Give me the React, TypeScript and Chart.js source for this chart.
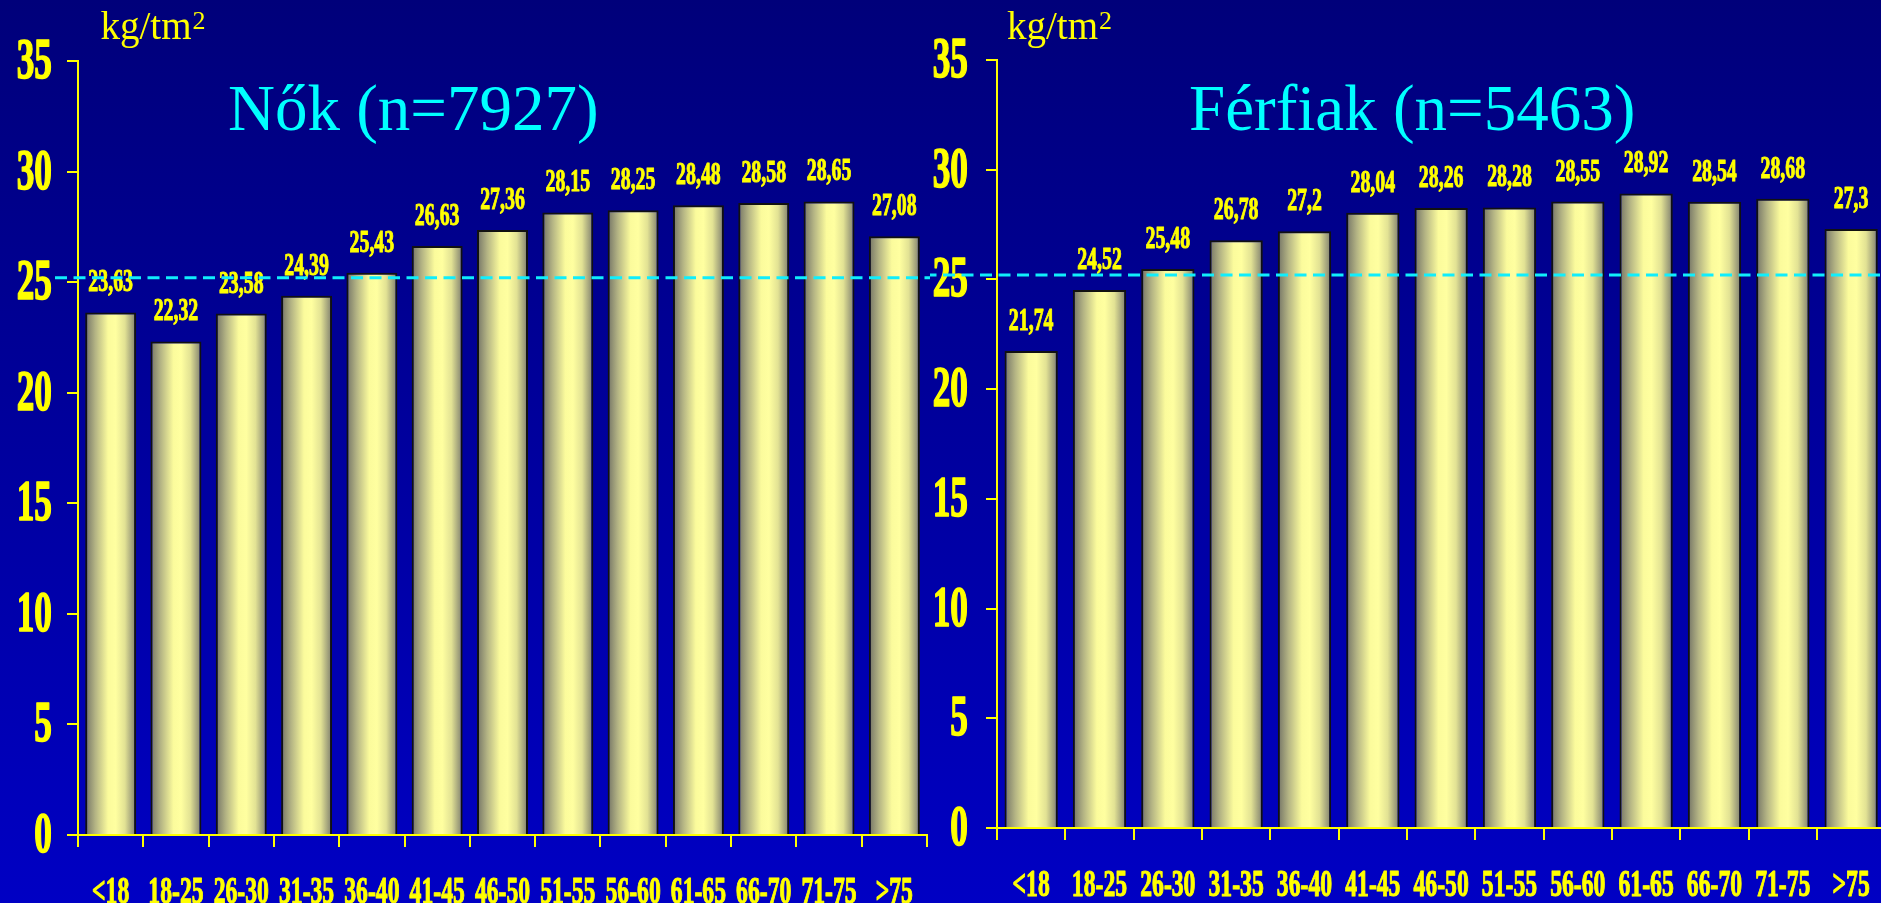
import React, { useEffect, useRef } from 'react';
import { Chart, registerables } from 'chart.js';

Chart.register(...registerables);

const categories = ['<18', '18-25', '26-30', '31-35', '36-40', '41-45', '46-50', '51-55', '56-60', '61-65', '66-70', '71-75', '>75'];
const womenValues = [23.63, 22.32, 23.58, 24.39, 25.43, 26.63, 27.36, 28.15, 28.25, 28.48, 28.58, 28.65, 27.08];
const menValues = [21.74, 24.52, 25.48, 26.78, 27.2, 28.04, 28.26, 28.28, 28.55, 28.92, 28.54, 28.68, 27.3];
const yMin = 0;
const yMax = 35;
const yStep = 5;
const referenceValue = 25.2;
const womenTitle = 'Nők (n=7927)';
const menTitle = 'Férfiak (n=5463)';
const unitText = 'kg/tm';
const unitSup = '2';

const SERIF = '"Liberation Serif", "Times New Roman", serif';
const YELLOW = '#ffff00';
const CYAN = '#00ffff';

type Layout = {
  pageX: number;
  width: number;
  height: number;
  axisLeft: number;
  padRight: number;
  padTop: number;
  xAxisHeight: number;
  title: string;
  titleX: number;
  unitX: number;
  yLabelRight: number;
  dashFrom: number;
  dashTo: number;
};

function fmt(v: number): string {
  return String(v).replace('.', ',');
}

function drawCondensed(
  ctx: CanvasRenderingContext2D,
  text: string,
  x: number,
  y: number,
  align: CanvasTextAlign,
  sx: number,
  thick: number
) {
  ctx.save();
  ctx.translate(x, y);
  ctx.scale(sx, 1);
  ctx.textAlign = align;
  ctx.textBaseline = 'alphabetic';
  ctx.fillText(text, 0, 0);
  if (thick > 0) {
    ctx.strokeStyle = ctx.fillStyle as string;
    ctx.lineWidth = thick;
    ctx.lineJoin = 'round';
    ctx.strokeText(text, 0, 0);
  }
  ctx.restore();
}

function makePlugin(L: Layout) {
  return {
    id: 'custom-text',
    afterDatasetsDraw(chart: any) {
      const ctx: CanvasRenderingContext2D = chart.ctx;
      const meta = chart.getDatasetMeta(0);
      const data = chart.data.datasets[0].data as number[];
      ctx.save();
      ctx.fillStyle = YELLOW;
      ctx.font = `bold 31px ${SERIF}`;
      meta.data.forEach((el: any, i: number) => {
        drawCondensed(ctx, fmt(data[i]), el.x, el.y - 21, 'center', 0.64, 1);
      });
      ctx.restore();
    },
    afterDraw(chart: any) {
      const ctx: CanvasRenderingContext2D = chart.ctx;
      const ys = chart.scales.y;
      const xs = chart.scales.x;
      ctx.save();
      ctx.fillStyle = YELLOW;
      ctx.font = `bold 56px ${SERIF}`;
      ys.ticks.forEach((t: any) => {
        const py = ys.getPixelForValue(t.value);
        drawCondensed(ctx, String(t.value), L.yLabelRight, py + 17, 'right', 0.63, 1.6);
      });
      ctx.font = `bold 37px ${SERIF}`;
      const labels = chart.data.labels as string[];
      labels.forEach((lab, i) => {
        const px = xs.getPixelForValue(i);
        drawCondensed(ctx, lab, px, chart.chartArea.bottom + 68, 'center', 0.64, 1.1);
      });
      ctx.textAlign = 'left';
      ctx.textBaseline = 'alphabetic';
      ctx.font = `39px ${SERIF}`;
      ctx.fillText(unitText, L.unitX, 39);
      const w = ctx.measureText(unitText).width;
      ctx.font = `26px ${SERIF}`;
      ctx.fillText(unitSup, L.unitX + w + 1, 29);
      ctx.fillStyle = CYAN;
      ctx.font = `65px ${SERIF}`;
      ctx.fillText(L.title, L.titleX, 130);
      const ry = ys.getPixelForValue(referenceValue);
      ctx.strokeStyle = '#10eefc';
      ctx.lineWidth = 3;
      ctx.setLineDash([12, 6.5]);
      ctx.lineDashOffset = L.pageX + L.dashFrom - 55;
      ctx.beginPath();
      ctx.moveTo(L.dashFrom, ry);
      ctx.lineTo(L.dashTo, ry);
      ctx.stroke();
      ctx.restore();
    },
  };
}

function barGradient(c: any) {
  const chart = c.chart;
  const xs = chart.scales && chart.scales.x;
  const fallback = '#f4f49a';
  if (!xs || c.dataIndex === undefined || !chart.chartArea) return fallback;
  const cx = xs.getPixelForValue(c.dataIndex);
  const w = (xs.width / categories.length) * 0.78;
  if (!isFinite(cx) || !isFinite(w) || w <= 0) return fallback;
  const g = chart.ctx.createLinearGradient(cx - w / 2, 0, cx + w / 2, 0);
  g.addColorStop(0, '#737366');
  g.addColorStop(0.2, '#b4b484');
  g.addColorStop(0.45, '#fbfb9c');
  g.addColorStop(0.6, '#ffffa0');
  g.addColorStop(0.78, '#e2e294');
  g.addColorStop(1, '#7c7c6e');
  return g;
}

function makeChart(canvas: HTMLCanvasElement, values: number[], L: Layout) {
  const axisCommon = {
    border: { display: true, color: YELLOW, width: 2 },
  };
  return new Chart(canvas, {
    type: 'bar',
    data: {
      labels: categories,
      datasets: [
        {
          data: values,
          backgroundColor: barGradient as any,
          borderColor: '#111111',
          borderWidth: 2,
          barPercentage: 0.78,
          categoryPercentage: 1,
        },
      ],
    },
    options: {
      animation: false,
      responsive: false,
      maintainAspectRatio: false,
      devicePixelRatio: 1,
      layout: { padding: { left: 0, top: L.padTop, right: L.padRight, bottom: 0 } },
      plugins: {
        legend: { display: false },
        tooltip: { enabled: false },
        title: { display: false },
      },
      scales: {
        x: {
          type: 'category',
          offset: true,
          ...axisCommon,
          grid: { offset: true, drawOnChartArea: false, drawTicks: true, tickLength: 12, color: YELLOW, lineWidth: 2 },
          ticks: { display: false },
          afterFit: (s: any) => {
            s.height = L.xAxisHeight;
          },
        },
        y: {
          min: yMin,
          max: yMax,
          ...axisCommon,
          grid: { drawOnChartArea: false, drawTicks: true, tickLength: 11, color: YELLOW, lineWidth: 2 },
          ticks: { display: false, stepSize: yStep },
          afterFit: (s: any) => {
            s.width = L.axisLeft;
          },
        },
      },
    } as any,
    plugins: [makePlugin(L) as any],
  });
}

const leftLayout: Layout = {
  pageX: 0,
  width: 940,
  height: 903,
  axisLeft: 78,
  padRight: 13,
  padTop: 61,
  xAxisHeight: 68,
  title: womenTitle,
  titleX: 228,
  unitX: 100.5,
  yLabelRight: 52,
  dashFrom: 55,
  dashTo: 930,
};

const rightLayout: Layout = {
  pageX: 920,
  width: 1040,
  height: 903,
  axisLeft: 77,
  padRight: 74.7,
  padTop: 60,
  xAxisHeight: 75,
  title: menTitle,
  titleX: 1189 - 920,
  unitX: 1007 - 920,
  yLabelRight: 968 - 920,
  dashFrom: 930 - 920,
  dashTo: 1040,
};

export default function App() {
  const leftRef = useRef<HTMLCanvasElement | null>(null);
  const rightRef = useRef<HTMLCanvasElement | null>(null);

  useEffect(() => {
    const a = makeChart(leftRef.current!, womenValues, leftLayout);
    const b = makeChart(rightRef.current!, menValues, rightLayout);
    return () => {
      a.destroy();
      b.destroy();
    };
  }, []);

  return (
    <div
      style={{
        position: 'fixed',
        left: 0,
        top: 0,
        width: 1881,
        height: 903,
        overflow: 'hidden',
        background: 'linear-gradient(to bottom, #00007a 0%, #00009e 50%, #0000c4 100%)',
      }}
    >
      <canvas
        ref={leftRef}
        width={leftLayout.width}
        height={leftLayout.height}
        style={{ position: 'absolute', left: leftLayout.pageX, top: 0, width: leftLayout.width, height: leftLayout.height }}
      />
      <canvas
        ref={rightRef}
        width={rightLayout.width}
        height={rightLayout.height}
        style={{ position: 'absolute', left: rightLayout.pageX, top: 0, width: rightLayout.width, height: rightLayout.height }}
      />
    </div>
  );
}
